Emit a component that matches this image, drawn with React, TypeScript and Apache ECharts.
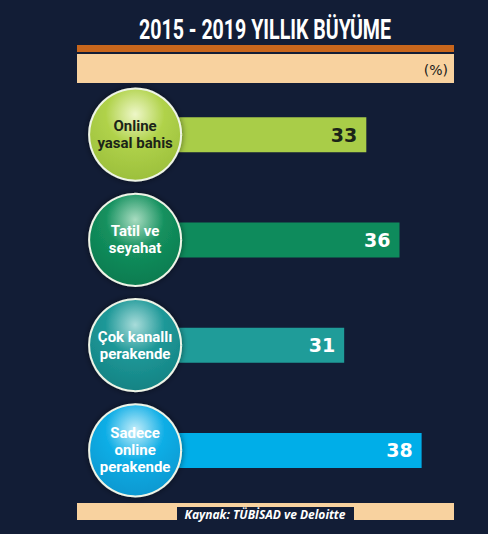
import React, { useEffect, useRef } from "react";
import * as echarts from "echarts";

const categories = ["Online yasal bahis", "Tatil ve seyahat", "Çok kanallı perakende", "Sadece online perakende"];
const circleLabels = ["Online\nyasal bahis", "Tatil ve\nseyahat", "Çok kanallı\nperakende", "Sadece\nonline\nperakende"];
const values = [33, 36, 31, 38];
const barColors = ["#a9cd48", "#0e8b5c", "#1f9c99", "#00aee8"];
const labelColors = ["#1b2418", "#ffffff", "#ffffff", "#ffffff"];
const circleLight = ["#eef7c8", "#a8dcc0", "#a8dcda", "#c4eefa"];
const circleMid = ["#b0d24a", "#13905e", "#1e9898", "#10aee6"];
const circleDark = ["#98bc3a", "#0b774c", "#137f80", "#0894cc"];
const circleText = ["#1b2418", "#ffffff", "#ffffff", "#ffffff"];
const title = "2015 - 2019 YILLIK BÜYÜME";
const unit = "(%)";
const source = "Kaynak: TÜBİSAD ve Deloitte";

const X_MIN = 12;
const X_MAX = 44;

export default function App() {
  const ref = useRef<HTMLDivElement>(null);
  useEffect(() => {
    if (!ref.current) return;
    const chart = echarts.init(ref.current, null, { renderer: "svg" });
    chart.setOption({
      animation: false,
      backgroundColor: "#121d36",
      grid: { left: 134, right: 0, top: 82, bottom: 31 },
      xAxis: { type: "value", min: X_MIN, max: X_MAX, show: false },
      yAxis: { type: "category", data: categories, inverse: true, show: false },
      graphic: [
        {
          type: "text",
          x: 265,
          y: 30,
          scaleX: 0.7,
          style: {
            text: title,
            fill: "#ffffff",
            font: "bold 28px Roboto, sans-serif",
            align: "center",
            verticalAlign: "middle",
          },
        },
        { type: "rect", shape: { x: 77, y: 45, width: 377, height: 7 }, style: { fill: "#c8661c" } },
        { type: "rect", shape: { x: 77, y: 54, width: 377, height: 29 }, style: { fill: "#f8d29f" } },
        {
          type: "text",
          x: 448,
          y: 70,
          style: { text: unit, fill: "#1a1a1a", font: "14px 'DejaVu Sans', sans-serif", align: "right", verticalAlign: "middle" },
        },
        { type: "rect", shape: { x: 77, y: 503, width: 377, height: 17 }, style: { fill: "#f8d29f" } },
        { type: "rect", shape: { x: 177, y: 507, width: 177, height: 13 }, style: { fill: "#121d36" } },
        {
          type: "text",
          x: 265,
          y: 514,
          style: {
            text: source,
            fill: "#ffffff",
            font: "italic bold 12px 'Open Sans', 'DejaVu Sans', sans-serif",
            align: "center",
            verticalAlign: "middle",
          },
        },
      ],
      series: [
        {
          type: "bar",
          barWidth: 35,
          data: values.map((v, i) => ({
            value: v,
            itemStyle: { color: barColors[i] },
            label: { color: labelColors[i] },
          })),
          label: {
            show: true,
            position: "insideRight",
            distance: 9,
            formatter: "{c}",
            fontSize: 19,
            fontWeight: "bold",
            fontFamily: "'DejaVu Sans', sans-serif",
          },
          z: 2,
        },
        {
          type: "scatter",
          symbol: "circle",
          symbolSize: 92,
          z: 5,
          data: categories.map((c, i) => ({
            value: [X_MIN + 0.1, c],
            itemStyle: {
              opacity: 1,
              color: {
                type: "radial",
                x: 0.5,
                y: 0.28,
                r: 0.8,
                colorStops: [
                  { offset: 0, color: circleLight[i] },
                  { offset: 0.4, color: circleMid[i] },
                  { offset: 1, color: circleDark[i] },
                ],
              },
              borderColor: "#eef4e6",
              borderWidth: 2,
              shadowBlur: 6,
              shadowColor: "rgba(0,0,0,0.5)",
            },
            label: {
              show: true,
              position: "inside",
              formatter: circleLabels[i],
              color: circleText[i],
              fontSize: 15,
              lineHeight: 17,
              fontWeight: "bold",
              fontFamily: "Roboto, sans-serif",
              align: "center",
            },
          })),
        },
      ],
    });
    return () => chart.dispose();
  }, []);
  return <div ref={ref} style={{ position: "absolute", left: 0, top: 0, width: 488, height: 534 }} />;
}
